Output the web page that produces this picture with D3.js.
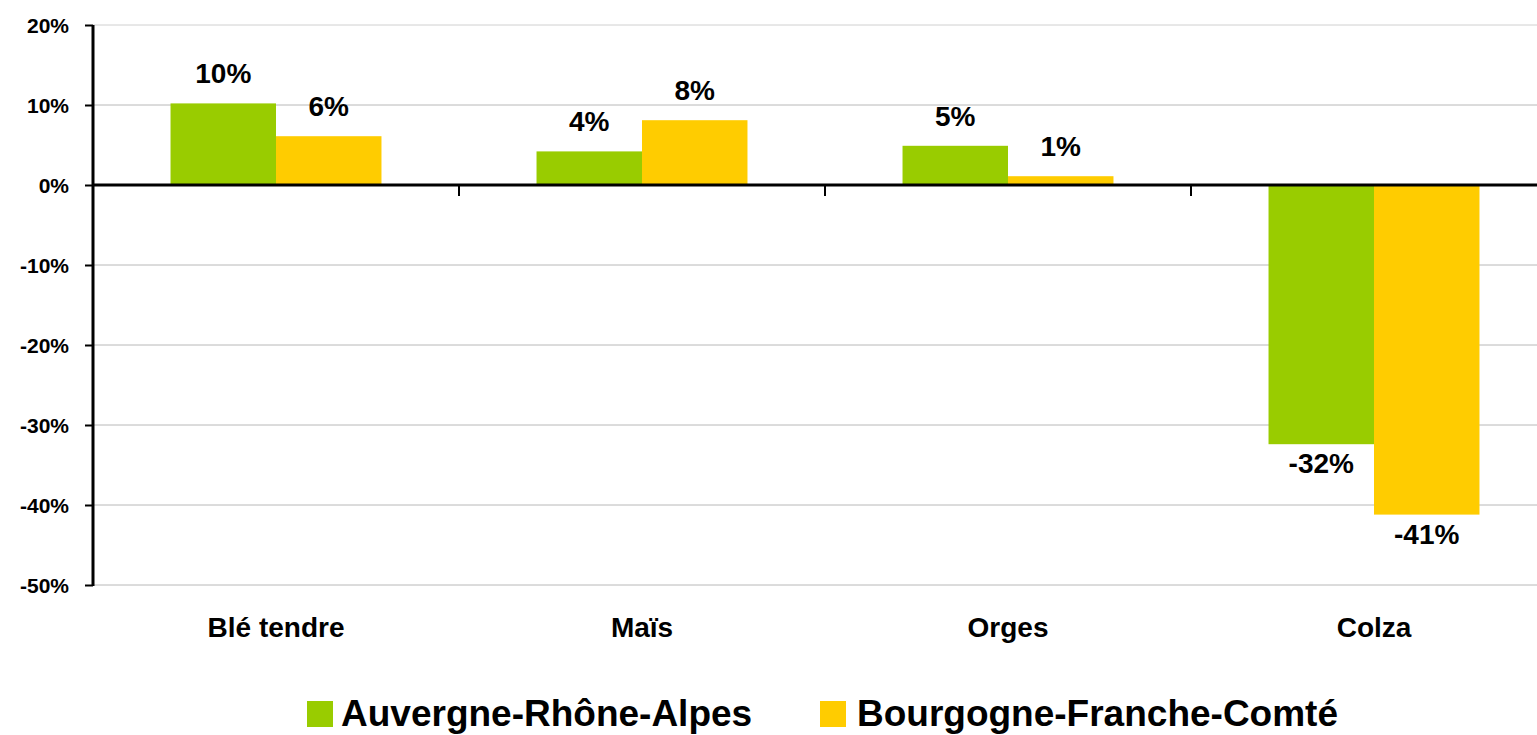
<!DOCTYPE html>
<html>
<head>
<meta charset="utf-8">
<script src="https://cdn.jsdelivr.net/npm/d3@7"></script>
<style>
  html, body { margin: 0; padding: 0; background: #fff; overflow: hidden; }
  svg { display: block; font-family: "Liberation Sans", Arial, sans-serif; font-weight: bold; }
</style>
</head>
<body>
<svg id="chart" width="1537" height="735"></svg>
<script>
const categories = ["Blé tendre", "Maïs", "Orges", "Colza"];
const seriesNames = ["Auvergne-Rhône-Alpes", "Bourgogne-Franche-Comté"];
const auvergne = [0.102, 0.042, 0.049, -0.324];
const bourgogne = [0.061, 0.081, 0.011, -0.412];
const yTicks = [0.2, 0.1, 0, -0.1, -0.2, -0.3, -0.4, -0.5];
const colors = ["#99CC00", "#FFCC00"];

const seriesValues = [auvergne, bourgogne];
const svg = d3.select("#chart");

const mLeft = 93, mRight = 1557, mTop = 25, mBottom = 585;

const y = d3.scaleLinear().domain([-0.5, 0.2]).range([mBottom, mTop]);
const x0 = d3.scaleBand().domain(categories).range([mLeft, mRight]).padding(0);
const x1 = d3.scaleBand().domain(seriesNames).range([0, x0.bandwidth()])
  .paddingInner(0).paddingOuter(0.735);

const fmt = v => (v < 0 ? "-" : "") + Math.round(Math.abs(v) * 100) + "%";

// gridlines
svg.append("g").selectAll("line").data(yTicks.filter(t => t !== 0)).join("line")
  .attr("x1", mLeft).attr("x2", 1537)
  .attr("y1", d => y(d)).attr("y2", d => y(d))
  .attr("stroke", d => d === 0.2 ? "#d0d0d0" : "#b8b8b8").attr("stroke-width", 1);

// y axis
const yAxis = d3.axisLeft(y).tickValues(yTicks).tickSize(8).tickPadding(16)
  .tickFormat(d => fmt(d));
const gy = svg.append("g").attr("transform", `translate(${mLeft},0)`).call(yAxis);
gy.select(".domain").remove();
gy.selectAll(".tick line").attr("stroke", "#000").attr("stroke-width", 2);
gy.selectAll(".tick text").attr("font-size", 21).attr("font-weight", "bold")
  .attr("font-family", "Liberation Sans, Arial, sans-serif").attr("fill", "#000")
  .attr("dy", "0.36em");

// bars
const groups = svg.append("g").selectAll("g").data(categories).join("g")
  .attr("transform", c => `translate(${x0(c)},0)`);

groups.selectAll("rect").data((c, i) => seriesNames.map((s, j) => ({ s, j, v: seriesValues[j][i] })))
  .join("rect")
  .attr("x", d => x1(d.s))
  .attr("width", x1.bandwidth())
  .attr("y", d => y(Math.max(0, d.v)))
  .attr("height", d => Math.abs(y(d.v) - y(0)))
  .attr("fill", d => colors[d.j]);

groups.selectAll("text").data((c, i) => seriesNames.map((s, j) => ({ s, j, v: seriesValues[j][i] })))
  .join("text")
  .attr("x", d => x1(d.s) + x1.bandwidth() / 2)
  .attr("y", d => d.v >= 0 ? y(d.v) - 20 : y(d.v) + 29)
  .attr("text-anchor", "middle")
  .attr("font-size", 28)
  .attr("fill", "#000")
  .text(d => fmt(d.v));

// y axis line
svg.append("line").attr("x1", mLeft).attr("x2", mLeft).attr("y1", mTop).attr("y2", mBottom + 1)
  .attr("stroke", "#000").attr("stroke-width", 3);

// zero line with category ticks
svg.append("line").attr("x1", mLeft).attr("x2", 1537).attr("y1", y(0)).attr("y2", y(0))
  .attr("stroke", "#000").attr("stroke-width", 3);
svg.append("g").selectAll("line").data(categories.slice(1)).join("line")
  .attr("x1", c => x0(c)).attr("x2", c => x0(c))
  .attr("y1", y(0)).attr("y2", y(0) + 11)
  .attr("stroke", "#000").attr("stroke-width", 2);

// category labels
svg.append("g").selectAll("text").data(categories).join("text")
  .attr("x", c => x0(c) + x0.bandwidth() / 2)
  .attr("y", 637)
  .attr("text-anchor", "middle")
  .attr("font-size", 28)
  .attr("fill", "#000")
  .text(c => c);

// legend
const legendX = [307, 820];
const lg = svg.append("g").selectAll("g").data(seriesNames).join("g")
  .attr("transform", (s, i) => `translate(${legendX[i]},0)`);
lg.append("rect").attr("x", 0).attr("y", 701).attr("width", 26).attr("height", 26)
  .attr("fill", (s, i) => colors[i]);
lg.append("text").attr("x", (s, i) => i === 0 ? 34 : 37).attr("y", 726)
  .attr("font-size", 37).attr("fill", "#000").text(s => s);
</script>
</body>
</html>
